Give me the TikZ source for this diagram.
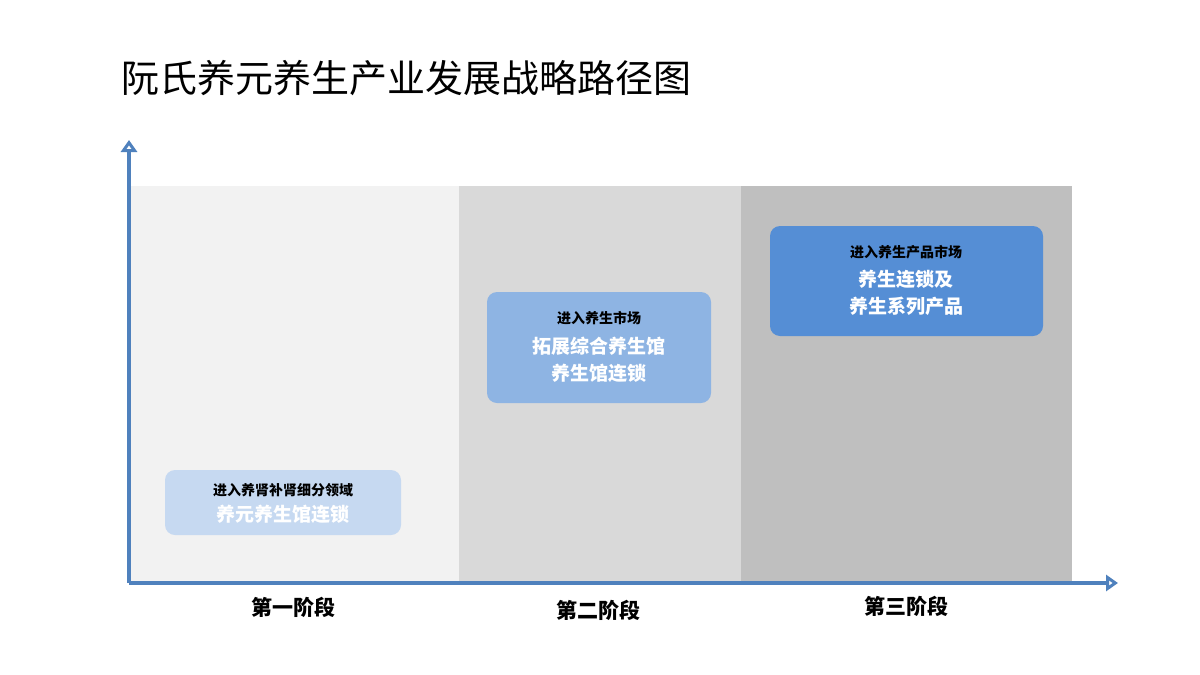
\documentclass[tikz,border=0pt]{standalone}
\usepackage{fontspec}
\newfontfamily\cjk{Noto Sans CJK SC}
\usetikzlibrary{arrows.meta}
\definecolor{axisc}{HTML}{4F81BD}
\definecolor{pA}{HTML}{F2F2F2}
\definecolor{pB}{HTML}{D9D9D9}
\definecolor{pC}{HTML}{BFBFBF}
\definecolor{bA}{HTML}{C6D9F1}
\definecolor{bB}{HTML}{8EB4E3}
\definecolor{bC}{HTML}{558ED5}
\tikzset{
  px/.style={x=1pt,y=-1pt},
  stagebox/.style={rounded corners=10pt,draw=none,inner sep=0pt},
  small/.style={font=\cjk\bfseries\fontsize{14}{16}\selectfont,text=black},
  big/.style={font=\cjk\bfseries\fontsize{19}{22}\selectfont,text=white},
  lab/.style={font=\cjk\bfseries\fontsize{21}{24}\selectfont,text=black},
}
\begin{document}
\begin{tikzpicture}[px]
\useasboundingbox (0,0) rectangle (1200,675);
\fill[white] (0,0) rectangle (1200,675);
\node[anchor=west,font=\cjk\fontsize{38}{44}\selectfont] (title) at (118,78) {阮氏养元养生产业发展战略路径图};
\fill[pA] (130,186) rectangle (459,582);
\fill[pB] (459,186) rectangle (741,582);
\fill[pC] (741,186) rectangle (1072,582);
\coordinate (o) at (129,583);
\coordinate (ytop) at (129,140);
\coordinate (xend) at (1118,583);
\draw[axisc,line width=3.5pt,-{Stealth[length=12pt,width=16pt,inset=0pt,open,line width=3.5pt]}] (o) -- (ytop);
\draw[axisc,line width=3.5pt,-{Stealth[length=12pt,width=16pt,inset=0pt,open,line width=3.5pt]}] (o) -- (xend);
\fill[bA,stagebox] (165,470) rectangle (401,535);
\node[small] (a1) at (283,490) {进入养肾补肾细分领域};
\node[big] (a2) at (283,514) {养元养生馆连锁};
\fill[bB,stagebox] (487,292) rectangle (711,403);
\node[small] (b1) at (599,318) {进入养生市场};
\node[big] (b2) at (599,346) {拓展综合养生馆};
\node[big] (b3) at (599,373) {养生馆连锁};
\fill[bC,stagebox] (770,226) rectangle (1043,336);
\node[small] (c1) at (906,252) {进入养生产品市场};
\node[big] (c2) at (906,279) {养生连锁及};
\node[big] (c3) at (906,306) {养生系列产品};
\node[lab] (l1) at (293,607) {第一阶段};
\node[lab] (l2) at (598,610) {第二阶段};
\node[lab] (l3) at (906,606) {第三阶段};
\end{tikzpicture}
\end{document}
